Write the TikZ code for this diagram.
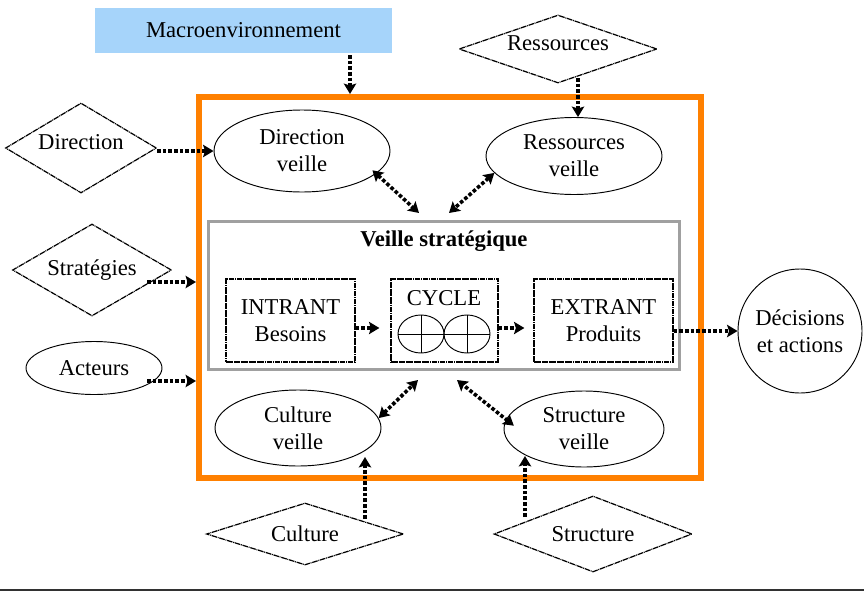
\documentclass[tikz,border=0pt]{standalone}
\usepackage{fontspec}
\setmainfont{Liberation Serif}
\usepackage{tikz}
\usetikzlibrary{arrows.meta,shapes.geometric}
\definecolor{orangecadre}{RGB}{255,128,0}
\definecolor{bleumacro}{RGB}{166,212,250}
\definecolor{grisveille}{RGB}{160,160,160}
\definecolor{grisligne}{RGB}{50,50,50}
\def\pu{0.53pt}
\def\haut#1{\raisebox{3pt}[\height][\depth]{#1}}

\tikzset{
	every node/.style={font=\fontsize{12}{14.4}\selectfont, align=center, inner sep=0pt},
	losange/.style 2 args={diamond, draw, aspect=2, line width=0.65pt, dash pattern=on 3pt off 0.4pt on 0.5pt off 0.4pt, minimum width=#1*\pu, minimum height=#2*\pu},
	bulle/.style 2 args={ellipse, draw, line width=0.5pt, minimum width=#1*\pu, minimum height=#2*\pu},
	etape/.style={rectangle, draw, line width=0.65pt, dash pattern=on 3pt off 0.4pt on 0.5pt off 0.4pt, minimum height=83*\pu},
	flux/.style={line width=1.9pt, dash pattern=on 1.9pt off 1.1pt, ->},
	fluxdouble/.style={line width=1.9pt, dash pattern=on 1.9pt off 1.1pt, <->}
}

\begin{document}
\begin{tikzpicture}[x=\pu, y=-\pu, >={Stealth[length=5.5pt,width=6.5pt,inset=1pt]}]
			%%%%% START %%%%%
			\useasboundingbox (0,0) rectangle (864,591);
			
			\node[draw=orangecadre, line width=6*\pu, minimum width=502*\pu, minimum height=381*\pu] (cadre) at (450,287.5) {};
			\node[draw=grisveille, line width=3*\pu, minimum width=471*\pu, minimum height=148*\pu] (veille) at (443.5,295) {};
			\node[font=\fontsize{12}{14.4}\selectfont\bfseries] (titre) at (444,241) {Veille stratégique};
			
			\node[fill=bleumacro, minimum width=297*\pu, minimum height=45*\pu] (macro) at (243.5,30.5) {Macroenvironnement};
			\node[losange={198}{68}] (ress) at (558,49) {\haut{Ressources}};
			\node[losange={151}{90}] (dir) at (81,148) {\haut{Direction}};
			\node[losange={159}{92}] (strat) at (92,270) {Stratégies};
			\node[bulle={136}{53}] (act) at (94,368) {Acteurs};
			\node[losange={197}{62}] (cult) at (305,534) {Culture};
			\node[losange={198}{76}] (struc) at (593,534) {Structure};
			
			\node[bulle={176}{82}] (dirv) at (302,151) {Direction\\veille};
			\node[bulle={176}{77}] (ressv) at (574,156) {Ressources\\veille};
			\node[bulle={166}{76}] (cultv) at (298,428) {Culture\\veille};
			\node[bulle={160}{76}] (strv) at (584,429) {Structure\\veille};
			
			\node[etape, minimum width=129*\pu] (intr) at (290.5,320.5) {INTRANT\\Besoins};
			\node[etape, minimum width=107*\pu] (cycl) at (444.5,320.5) {};
			\node (cyctxt) at (444,298) {CYCLE};
			\node[bulle={46}{38}] (c1) at (421,334) {};
			\node[bulle={46}{38}] (c2) at (467,334) {};
			\draw[line width=0.5pt] (c1.north) -- (c1.south) (c1.west) -- (c2.east) (c2.north) -- (c2.south);
			\node[etape, minimum width=139*\pu] (extr) at (603.5,320.5) {EXTRANT\\Produits};
			
			\node[circle, draw, line width=0.5pt, minimum size=124*\pu] (dec) at (800,331) {Décisions\\et actions};
			
			\coordinate (macrobas) at (350,55);
			\coordinate (ressbas) at (578,78);
			\coordinate (stratsort) at (147,282);
			\coordinate (actsort) at (147,381);
			\coordinate (cultsort) at (365,519);
			\coordinate (cultent) at (365,457);
			\coordinate (strucsort) at (525,517);
			\coordinate (strucent) at (525,456);
			\coordinate (vhg) at (419,213);
			\coordinate (vhd) at (449,213);
			\coordinate (vbg) at (418,380);
			\coordinate (vbd) at (457,380);
			
			\draw[flux] (macrobas) -- (macrobas |- cadre.north);
			\draw[flux] (ressbas) -- (ressbas |- ressv.north);
			\draw[flux] (dir.east |- dirv.west) -- (dirv.west);
			\draw[flux] (stratsort) -- (stratsort -| cadre.west);
			\draw[flux] (actsort) -- (actsort -| cadre.west);
			\draw[flux] (cultsort) -- (cultent);
			\draw[flux] (strucsort) -- (strucent);
			\draw[flux, shorten >=11*\pu] (intr.east |- 0,328) -- (cycl.west |- 0,328);
			\draw[flux, shorten >=9*\pu] (cycl.east |- 0,328) -- (extr.west |- 0,328);
			\draw[flux] (dec.west -| extr.east) -- (dec.west);
			
			\draw[fluxdouble, shorten <=-5*\pu] (dirv.-17) -- (vhg);
			\draw[fluxdouble] (ressv.192) -- (vhd);
			\draw[fluxdouble] (cultv.7) -- (vbg);
			\draw[fluxdouble, shorten <=-10*\pu] (strv.173) -- (vbd);
			
			\draw[grisligne, line width=3*\pu] (0,590) -- (864,590);
			%%%%% END %%%%%
\end{tikzpicture}
\end{document}
